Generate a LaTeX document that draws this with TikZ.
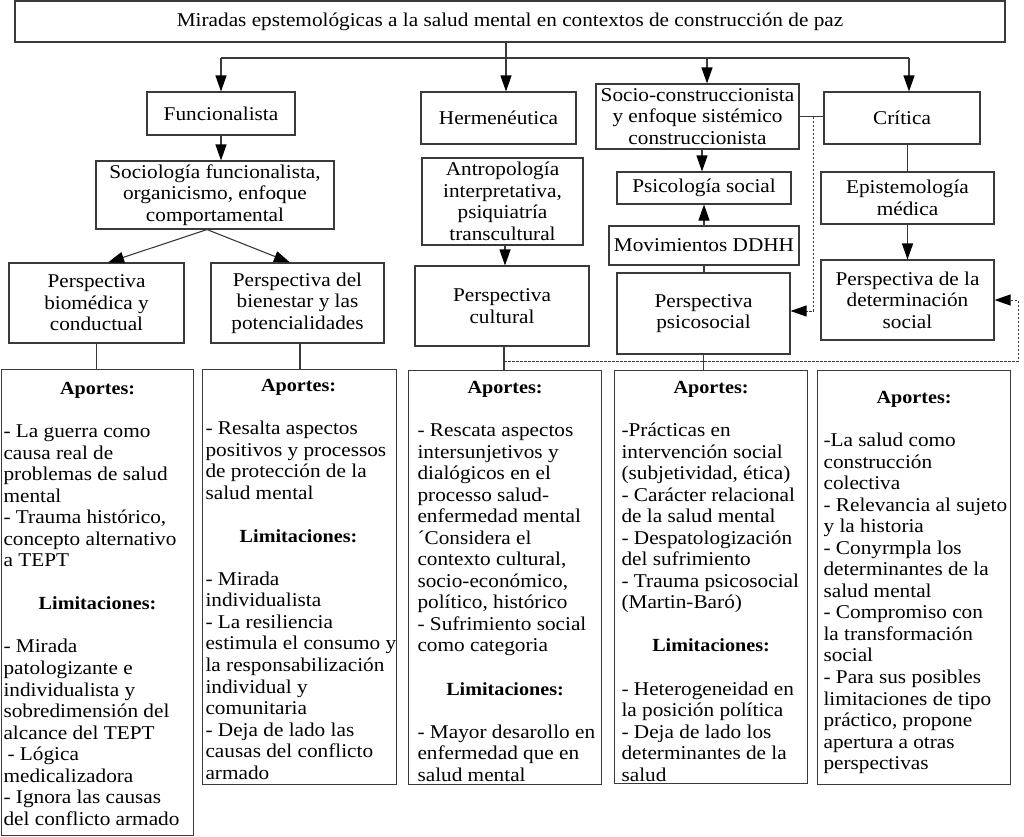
\documentclass[tikz,border=0pt]{standalone}
\usepackage{fontspec}
\setmainfont{Liberation Serif}[FakeStretch=1.09]
\usetikzlibrary{arrows.meta}
\definecolor{lc}{HTML}{3A3A3A}
\newcommand{\fs}{\fontsize{19.5}{21.55}\selectfont}
\newlength{\padl}
\newcommand{\bxhead}[1]{\hbox to \hsize{\hss\fontsize{18.5}{21.55}\selectfont\bfseries #1\hss}}
\newcommand{\bxline}[1]{\hbox{\kern\padl #1}}
\newcommand{\bxblank}{\vskip\baselineskip}
\newcommand{\colcontent}[5]{\parbox[t][#2pt][t]{#1pt}{\fs\setlength{\padl}{#3pt}\vspace*{#4pt}#5}}
\tikzset{
  bx/.style={draw=lc, line width=1.1pt, inner sep=0pt, align=center, font=\fs},
  colbox/.style={draw=lc, line width=1.1pt, inner sep=0pt, anchor=north west},
  tip/.style={-{Triangle[length=16pt,width=11pt,color=black]}},
  arr/.style={draw=lc, line width=1.1pt, tip},
  ln/.style={draw=lc, line width=1.1pt},
  dsh/.style={draw=lc, line width=1pt, dash pattern=on 2.5pt off 1.5pt},
}
\begin{document}
\begin{tikzpicture}[x=1pt,y=-1pt]
\useasboundingbox (0,0) rectangle (1024,836);
% top
\node[bx, minimum width=990, minimum height=41] (title) at (510,21.5) {Miradas epstemológicas a la salud mental en contextos de construcción de paz};
% level 1
\node[bx, minimum width=148, minimum height=43] (func) at (221,113.5) {Funcionalista};
\node[bx, minimum width=155, minimum height=52] (herm) at (498.5,118) {Hermenéutica};
\node[bx, minimum width=203, minimum height=65] (socio) at (697.5,116.5) {Socio-construccionista\\y enfoque sistémico\\construccionista};
\node[bx, minimum width=156, minimum height=52] (crit) at (902,118) {Crítica};
% level 2
\node[bx, minimum width=238, minimum height=68] (soc) at (215,195) {Sociología funcionalista,\\organicismo, enfoque\\comportamental};
\node[bx, minimum width=161, minimum height=87] (antro) at (502.5,201.5) {Antropología\\interpretativa,\\psiquiatría\\transcultural};
\node[bx, minimum width=174, minimum height=32] (psoc) at (704,188) {Psicología social};
\node[bx, minimum width=190, minimum height=39] (mov) at (704,245.5) {Movimientos DDHH};
\node[bx, minimum width=173, minimum height=52] (epi) at (907.5,198) {Epistemología\\médica};
% level 3
\node[bx, minimum width=175, minimum height=80] (bio) at (96.5,303) {Perspectiva\\biomédica y\\conductual};
\node[bx, minimum width=173, minimum height=80] (bien) at (297.5,303) {Perspectiva del\\bienestar y las\\potencialidades};
\node[bx, minimum width=174, minimum height=80] (cult) at (502,306) {Perspectiva\\cultural};
\node[bx, minimum width=173, minimum height=81] (psico) at (703.5,313.5) {Perspectiva\\psicosocial};
\node[bx, minimum width=173, minimum height=80] (det) at (907.5,300) {Perspectiva de la\\determinación\\social};
% bottom boxes
\node[colbox] (b1) at (1,369) {\colcontent{192}{466}{2}{12.6}{%
\bxhead{Aportes:}\bxblank
\bxline{- La guerra como}
\bxline{causa real de}
\bxline{problemas de salud}
\bxline{mental}
\bxline{- Trauma histórico,}
\bxline{concepto alternativo}
\bxline{a TEPT}
\bxblank\bxhead{Limitaciones:}\bxblank
\bxline{- Mirada}
\bxline{patologizante e}
\bxline{individualista y}
\bxline{sobredimensión del}
\bxline{alcance del TEPT}
\bxline{\kern4pt - Lógica}
\bxline{medicalizadora}
\bxline{- Ignora las causas}
\bxline{del conflicto armado}}};
\node[colbox] (b2) at (202,369) {\colcontent{192}{415}{3}{9.6}{%
\bxhead{Aportes:}\bxblank
\bxline{- Resalta aspectos}
\bxline{positivos y processos}
\bxline{de protección de la}
\bxline{salud mental}
\bxblank\bxhead{Limitaciones:}\bxblank
\bxline{- Mirada}
\bxline{individualista}
\bxline{- La resiliencia}
\bxline{estimula el consumo y}
\bxline{la responsabilización}
\bxline{individual y}
\bxline{comunitaria}
\bxline{- Deja de lado las}
\bxline{causas del conflicto}
\bxline{armado}}};
\node[colbox] (b3) at (408,370) {\colcontent{193}{414}{9}{10.6}{%
\bxhead{Aportes:}\bxblank
\bxline{- Rescata aspectos}
\bxline{intersunjetivos y}
\bxline{dialógicos en el}
\bxline{processo salud-}
\bxline{enfermedad mental}
\bxline{´Considera el}
\bxline{contexto cultural,}
\bxline{socio-económico,}
\bxline{político, histórico}
\bxline{- Sufrimiento social}
\bxline{como categoria}
\bxblank\bxhead{Limitaciones:}\bxblank
\bxline{- Mayor desarollo en}
\bxline{enfermedad que en}
\bxline{salud mental}}};
\node[colbox] (b4) at (614,370) {\colcontent{193}{413}{7}{10.6}{%
\bxhead{Aportes:}\bxblank
\bxline{-Prácticas en}
\bxline{intervención social}
\bxline{(subjetividad, ética)}
\bxline{- Carácter relacional}
\bxline{de la salud mental}
\bxline{- Despatologización}
\bxline{del sufrimiento}
\bxline{- Trauma psicosocial}
\bxline{(Martin-Baró)}
\bxblank\bxhead{Limitaciones:}\bxblank
\bxline{- Heterogeneidad en}
\bxline{la posición política}
\bxline{- Deja de lado los}
\bxline{determinantes de la}
\bxline{salud}}};
\node[colbox] (b5) at (817,370) {\colcontent{193}{414}{6}{20.6}{%
\bxhead{Aportes:}\bxblank
\bxline{-La salud como}
\bxline{construcción}
\bxline{colectiva}
\bxline{- Relevancia al sujeto}
\bxline{y la historia}
\bxline{- Conyrmpla los}
\bxline{determinantes de la}
\bxline{salud mental}
\bxline{- Compromiso con}
\bxline{la transformación}
\bxline{social}
\bxline{- Para sus posibles}
\bxline{limitaciones de tipo}
\bxline{práctico, propone}
\bxline{apertura a otras}
\bxline{perspectivas}}};
% connectors from title
\coordinate (hub) at (506,58);
\coordinate (hl) at (221,58);
\coordinate (hs) at (707,58);
\coordinate (hr) at (909,58);
\draw[ln] (title.south -| hub) -- (hub);
\draw[ln] (hl) -- (hr);
\draw[arr] (hl) -- (func.north -| hl);
\draw[arr] (hub) -- (herm.north -| hub);
\draw[arr] (hs) -- (socio.north -| hs);
\draw[arr] (hr) -- (crit.north -| hr);
% funcionalista branch
\draw[arr] (func.south) -- (soc.north -| func.south);
\draw[arr] ([xshift=-8pt]soc.south) -- ([xshift=11.5pt]bio.north);
\draw[arr] ([xshift=-8pt]soc.south) -- ([xshift=-7.5pt]bien.north);
\draw[ln] (bio.south) -- (bio.south |- b1.north);
\draw[ln] ([xshift=2.5pt]bien.south) -- ([xshift=2.5pt]bien.south |- b2.north);
% hermeneutica branch
\draw[arr] ([xshift=2.5pt]antro.south) -- ([xshift=2.5pt]antro.south |- cult.north);
\draw[ln] ([xshift=2pt]cult.south) -- ([xshift=2pt]cult.south |- b3.north);
% socio-construccionista branch
\draw[arr] ([xshift=4.5pt]socio.south) -- ([xshift=4.5pt]socio.south |- psoc.north);
\draw[arr] (mov.north) -- (psoc.south);
\draw[ln] (mov.south) -- (mov.south |- psico.north);
\draw[ln] (psico.south) -- (psico.south |- b4.north);
% critica branch
\draw[ln] (socio.east) -- (socio.east -| crit.west);
\draw[ln] (crit.south -| epi.north) -- (epi.north);
\draw[arr] (epi.south) -- (det.north);
% dashed links
\coordinate (d1) at (813,116.5);
\draw[dsh, tip] (d1) -- ([yshift=2.5pt]d1 |- psico.east) -- ([yshift=2.5pt]psico.east);
\coordinate (c1) at (504,361);
\coordinate (c2) at (1018,361);
\draw[dsh, tip] (c1) -- (c2) -- (c2 |- det.east) -- (det.east);
\end{tikzpicture}
\end{document}
